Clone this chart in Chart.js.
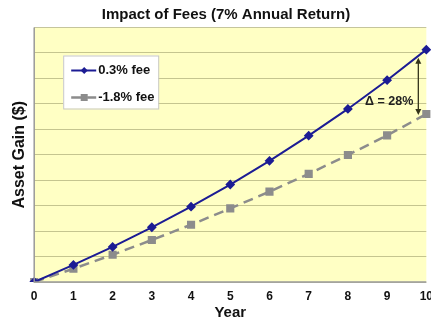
<!DOCTYPE html>
<html>
<head>
<meta charset="utf-8">
<script src="https://cdn.jsdelivr.net/npm/chart.js@4"></script>
<style>
  html, body { margin: 0; padding: 0; background: #fff; overflow: hidden; }
  #wrap { width: 442px; height: 320px; }
</style>
</head>
<body>
<div id="wrap"><canvas id="feeChart" width="442" height="320"></canvas></div>
<script>
// years on the x axis
const years = ['0', '1', '2', '3', '4', '5', '6', '7', '8', '9', '10'];
// asset gain (fraction of start)
const lowFee = [0, 0.067, 0.138, 0.215, 0.296, 0.383, 0.476, 0.575, 0.680, 0.793, 0.913];
const highFee = [0, 0.052, 0.107, 0.165, 0.225, 0.289, 0.355, 0.425, 0.499, 0.576, 0.660];
const seriesNames = ['0.3% fee', '1.8% fee'];
const deltaText = '\u0394 = 28%';

const FONT = '"Liberation Sans", Arial, sans-serif';

// pale yellow plot background + left/bottom border
const plotBg = {
  id: 'plotBg',
  beforeDraw(chart) {
    const { ctx, chartArea: a } = chart;
    ctx.save();
    ctx.fillStyle = '#FFFFC4';
    ctx.fillRect(a.left, a.top, a.right - a.left, a.bottom - a.top);
    ctx.restore();
  },
  afterDatasetsDraw(chart) {
    const { ctx, chartArea: a } = chart;
    ctx.save();
    ctx.strokeStyle = '#9a9a9a';
    ctx.lineWidth = 1.5;
    ctx.beginPath();
    ctx.moveTo(a.left, a.top);
    ctx.lineTo(a.left, a.bottom);
    ctx.lineTo(a.right, a.bottom);
    ctx.stroke();
    ctx.restore();
  }
};

// legend box inside the plot + the delta arrow
const extras = {
  id: 'extras',
  afterDraw(chart) {
    const { ctx, chartArea: a, scales } = chart;
    ctx.save();

    // legend
    const lx = a.left + 29, ly = a.top + 28, lw = 95, lh = 53;
    ctx.fillStyle = '#fff';
    ctx.fillRect(lx, ly, lw, lh);
    ctx.strokeStyle = '#c8c8c8';
    ctx.lineWidth = 1;
    ctx.strokeRect(lx + 0.5, ly + 0.5, lw, lh);

    chart.data.datasets.forEach((ds, i) => {
      const y = ly + 15 + i * 27;
      ctx.strokeStyle = ds.borderColor;
      ctx.lineWidth = ds.borderWidth;
      ctx.setLineDash(ds.borderDash || []);
      ctx.beginPath();
      ctx.moveTo(lx + 8, y);
      ctx.lineTo(lx + 33, y);
      ctx.stroke();
      ctx.setLineDash([]);
      ctx.fillStyle = ds.pointBackgroundColor;
      const mx = lx + 21;
      if (ds.pointStyle === 'rectRot') {
        ctx.beginPath();
        ctx.moveTo(mx, y - 3.5); ctx.lineTo(mx + 3.5, y);
        ctx.lineTo(mx, y + 3.5); ctx.lineTo(mx - 3.5, y);
        ctx.closePath(); ctx.fill();
      } else {
        ctx.fillRect(mx - 3.5, y - 3.5, 7, 7);
      }
      ctx.fillStyle = '#111';
      ctx.font = 'bold 13px ' + FONT;
      ctx.textBaseline = 'middle';
      ctx.textAlign = 'left';
      ctx.fillText((i === 1 ? '-' : '') + ds.label, lx + 35, y);
    });

    // delta arrow at year 10
    const x = scales.x.getPixelForValue(10) - 8;
    const y1 = scales.y.getPixelForValue(lowFee[10]) + 8;
    const y2 = scales.y.getPixelForValue(highFee[10]) + 1;
    ctx.strokeStyle = '#33331a';
    ctx.fillStyle = '#33331a';
    ctx.lineWidth = 1.3;
    ctx.beginPath();
    ctx.moveTo(x, y1 + 3); ctx.lineTo(x, y2 - 3);
    ctx.stroke();
    ctx.beginPath();
    ctx.moveTo(x, y1); ctx.lineTo(x - 3, y1 + 6); ctx.lineTo(x + 3, y1 + 6); ctx.closePath(); ctx.fill();
    ctx.beginPath();
    ctx.moveTo(x, y2); ctx.lineTo(x - 3, y2 - 6); ctx.lineTo(x + 3, y2 - 6); ctx.closePath(); ctx.fill();

    ctx.fillStyle = '#222';
    ctx.font = 'bold 12.5px ' + FONT;
    ctx.textAlign = 'right';
    ctx.textBaseline = 'middle';
    ctx.fillText(deltaText, x - 5, (y1 + y2) / 2 + 15);
    ctx.restore();
  }
};

new Chart(document.getElementById('feeChart').getContext('2d'), {
  type: 'line',
  data: {
    labels: years,
    datasets: [{
      label: seriesNames[0],
      data: lowFee,
      borderColor: '#1c1c94',
      backgroundColor: '#1c1c94',
      pointBackgroundColor: '#1c1c94',
      pointBorderColor: '#1c1c94',
      borderWidth: 2,
      pointStyle: 'rectRot',
      pointRadius: 3.5,
      tension: 0
    }, {
      label: seriesNames[1],
      data: highFee,
      borderColor: '#8c8c8c',
      backgroundColor: '#8c8c8c',
      pointBackgroundColor: '#8c8c8c',
      pointBorderColor: '#8c8c8c',
      borderWidth: 2.5,
      borderDash: [10, 6],
      pointStyle: 'rect',
      pointRadius: 4,
      tension: 0
    }]
  },
  options: {
    responsive: false,
    animation: false,
    layout: { padding: { left: 10, right: 0, top: 5, bottom: 0 } },
    plugins: {
      legend: { display: false },
      tooltip: { enabled: false },
      title: {
        display: true,
        text: 'Impact of Fees (7% Annual Return)',
        color: '#111',
        font: { family: FONT, size: 15, weight: 'bold', lineHeight: 1.1 },
        padding: { top: 2, bottom: 4 }
      }
    },
    scales: {
      x: {
        offset: false,
        grid: { display: false, drawTicks: false },
        border: { display: false },
        ticks: {
          color: '#111',
          padding: 9,
          maxRotation: 0,
          autoSkip: false,
          font: { family: FONT, size: 12, weight: 'bold', lineHeight: 1 }
        },
        title: {
          display: true,
          text: 'Year',
          color: '#111',
          padding: { top: -7, bottom: 0 },
          font: { family: FONT, size: 15, weight: 'bold', lineHeight: 1 }
        }
      },
      y: {
        min: 0,
        max: 1,
        grid: { color: 'rgba(150,150,100,0.55)', lineWidth: 1, drawTicks: false },
        border: { display: false },
        ticks: { display: false, stepSize: 0.1 },
        title: {
          display: true,
          text: 'Asset Gain ($)',
          color: '#111',
          padding: { top: 0, bottom: 5 },
          font: { family: FONT, size: 16, weight: 'bold' }
        }
      }
    }
  },
  plugins: [plotBg, extras]
});
</script>
</body>
</html>
